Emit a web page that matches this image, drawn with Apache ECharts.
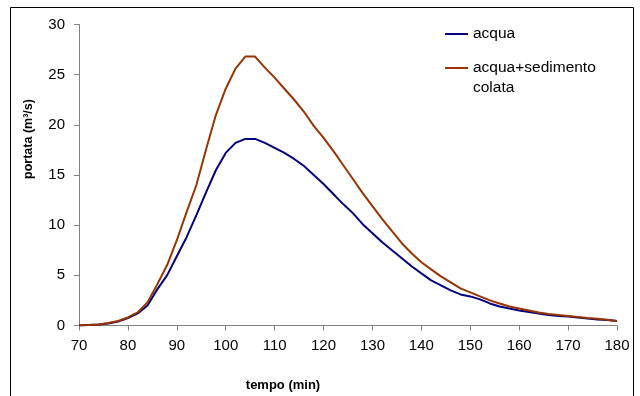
<!DOCTYPE html>
<html>
<head>
<meta charset="utf-8">
<script src="https://cdn.jsdelivr.net/npm/echarts@6/dist/echarts.min.js"></script>
<style>html,body{margin:0;padding:0;background:#fff}#c{width:640px;height:396px}</style>
</head>
<body>
<div id="c"></div>
<script>
const tempo = [70,72,74,76,78,80,82,84,86,88,90,92,94,96,98,100,102,104,106,108,110,112,114,116,118,120,122,124,126,128,130,132,134,136,138,140,142,144,146,148,150,152,154,156,158,160,162,164,166,168,170,172,174,176,178,180];
const acqua = [0,0.05,0.1,0.2,0.4,0.75,1.2,2.0,3.6,5.0,6.9,8.8,11.0,13.3,15.5,17.2,18.2,18.6,18.6,18.2,17.7,17.2,16.6,15.9,15.0,14.1,13.1,12.1,11.2,10.1,9.2,8.3,7.5,6.7,5.9,5.2,4.5,4.0,3.5,3.1,2.9,2.6,2.2,1.9,1.7,1.5,1.35,1.2,1.05,0.95,0.9,0.8,0.7,0.6,0.55,0.45];
const sedimento = [0,0.05,0.1,0.25,0.45,0.8,1.3,2.3,4.1,6.0,8.5,11.3,14.0,17.6,21.0,23.6,25.6,26.8,26.8,25.7,24.7,23.6,22.5,21.3,19.9,18.7,17.4,16.0,14.6,13.2,11.9,10.6,9.4,8.2,7.2,6.3,5.6,4.9,4.3,3.7,3.3,2.9,2.5,2.2,1.9,1.7,1.5,1.3,1.15,1.05,0.95,0.85,0.75,0.68,0.58,0.45];
const seriesNames = ['acqua','acqua+sedimento'];
const legendExtra = 'colata';
const xTitle = 'tempo (min)';
const yTitle = 'portata (m³/s)';

const chart = echarts.init(document.getElementById('c'), null, {renderer:'canvas'});
const font = 'Liberation Sans, Arial, sans-serif';
const axisCol = '#808080';
const legendBase = {orient:'vertical',padding:0,itemWidth:23,itemHeight:2,icon:'rect',
  textStyle:{fontSize:15.5,fontFamily:font,color:'#000'}};
chart.setOption({
  animation:false,
  grid:{left:79,right:23,top:24.5,bottom:70.5},
  xAxis:{type:'value',min:70,max:180,interval:10,
    axisLine:{lineStyle:{color:axisCol}},
    axisTick:{inside:false,length:5,lineStyle:{color:axisCol}},
    splitLine:{show:false},
    axisLabel:{color:'#000',fontSize:15,fontFamily:font,margin:13}},
  yAxis:{type:'value',min:0,max:30,interval:5,
    axisLine:{show:true,lineStyle:{color:axisCol}},
    axisTick:{show:true,inside:false,length:5,lineStyle:{color:axisCol}},
    splitLine:{show:false},
    axisLabel:{color:'#000',fontSize:15,fontFamily:font,margin:14}},
  legend:[
    Object.assign({data:[seriesNames[0]],left:445,top:26},legendBase),
    Object.assign({data:[seriesNames[1]],left:445,top:60},legendBase)
  ],
  graphic:[
    {type:'rect',shape:{x:10.5,y:7.5,width:623,height:400},style:{fill:'none',stroke:'#000',lineWidth:1},silent:true},
    {type:'text',x:473,y:88,style:{text:legendExtra,fontSize:15.5,fontFamily:font,fill:'#000',verticalAlign:'middle'}},
    {type:'text',x:283,y:385,style:{text:xTitle,fontSize:13,fontWeight:'bold',fontFamily:font,fill:'#000',align:'center',verticalAlign:'middle'}},
    {type:'text',x:29,y:139,rotation:Math.PI/2,style:{text:yTitle,fontSize:12.5,fontWeight:'bold',fontFamily:font,fill:'#000',align:'center',verticalAlign:'middle'}}
  ],
  series:[
    {name:seriesNames[0],type:'line',data:tempo.map((t,i)=>[t,acqua[i]]),symbol:'none',lineStyle:{color:'#000080',width:2},itemStyle:{color:'#000080'}},
    {name:seriesNames[1],type:'line',data:tempo.map((t,i)=>[t,sedimento[i]]),symbol:'none',lineStyle:{color:'#993300',width:2},itemStyle:{color:'#993300'}}
  ]
});
</script>
</body>
</html>
